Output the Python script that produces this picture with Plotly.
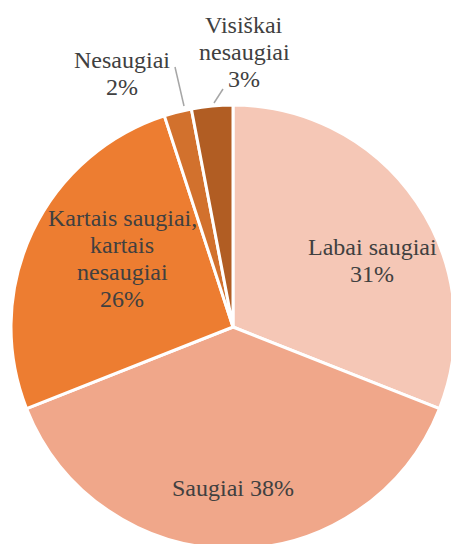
import plotly.graph_objects as go

categories = ["Labai saugiai", "Saugiai", "Kartais saugiai, kartais nesaugiai", "Nesaugiai", "Visiškai nesaugiai"]
values = [31, 38, 26, 2, 3]
label_lines = [
    ["Labai saugiai", "31%"],
    ["Saugiai 38%"],
    ["Kartais saugiai,", "kartais", "nesaugiai", "26%"],
    ["Nesaugiai", "2%"],
    ["Visiškai", "nesaugiai", "3%"],
]
colors = ["#F5C7B6", "#F0A78A", "#ED7D31", "#D2712D", "#B15D23"]

# figure slightly larger than the 451x544 window; the window crops the pie like the reference
W, H = 460, 552
FONT = "Liberation Serif"
FONT_SIZE = 24
TEXT_COLOR = "#404040"
LINE_STEP = 27  # px between text lines

fig = go.Figure(go.Pie(
    labels=categories,
    values=values,
    textinfo="none",
    sort=False,
    direction="clockwise",
    rotation=0,
    marker=dict(colors=colors, line=dict(color="white", width=3)),
    domain=dict(x=[11 / W, 455 / W], y=[(H - 549) / H, (H - 105) / H]),
    showlegend=False,
    hoverinfo="label+percent",
))

# label placement (pixel centre of first line) and leader lines
label_pos = [(372, 247), (233, 488), (122, 218), (122, 60), (244, 25)]
leader_lines = {
    3: ((175, 67), (184, 106)),
    4: ((223, 89), (214, 103)),
}

for i, lines in enumerate(label_lines):
    cx, cy = label_pos[i]
    for k, line in enumerate(lines):
        fig.add_annotation(
            x=cx / W, y=1 - (cy + k * LINE_STEP) / H, xref="paper", yref="paper",
            text=line, showarrow=False,
            font=dict(family=FONT, size=FONT_SIZE, color=TEXT_COLOR),
            xanchor="center", yanchor="middle",
        )
for i, ((x0, y0), (x1, y1)) in leader_lines.items():
    fig.add_shape(
        type="line", xref="paper", yref="paper",
        x0=x0 / W, y0=1 - y0 / H, x1=x1 / W, y1=1 - y1 / H,
        line=dict(color="#A6A6A6", width=1.5),
    )

fig.update_layout(
    width=W, height=H,
    margin=dict(l=0, r=0, t=0, b=0),
    paper_bgcolor="white",
    plot_bgcolor="white",
)
fig.write_html(
    "out.html",
    config={"displayModeBar": False},
    post_script="document.documentElement.style.overflow='hidden';"
                "document.body.style.margin='0';document.body.style.overflow='hidden';",
)
